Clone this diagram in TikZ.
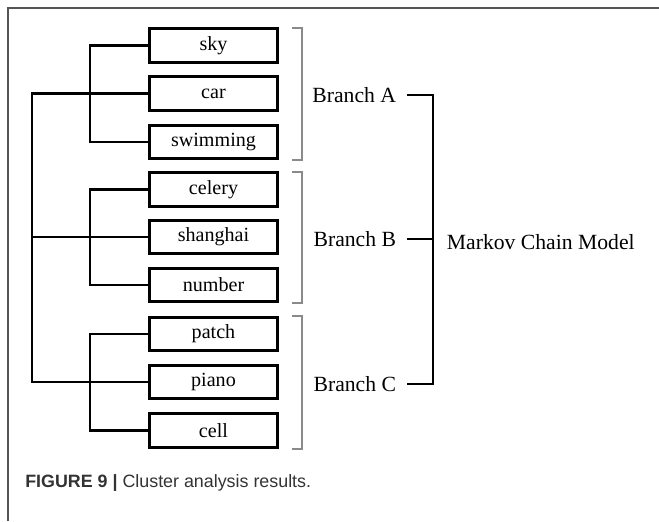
\documentclass[tikz,border=0pt]{standalone}
\usepackage{fontspec}
\setmainfont{Liberation Serif}
\newfontfamily\capfont{Liberation Sans}
\usetikzlibrary{positioning}
\definecolor{framegray}{HTML}{555555}
\definecolor{bracketgray}{HTML}{8A8A8A}
\definecolor{captext}{HTML}{333333}
\tikzset{
    word/.style={draw, line width=2pt, minimum width=3.2cm, minimum height=0.83cm,
        inner sep=0pt, font=\fontsize{14.3}{16}\selectfont},
    tree/.style={line width=2pt},
    bracket/.style={line width=1.4pt, bracketgray},
    branchtext/.style={font=\fontsize{15.4}{18}\selectfont},
}
\begin{document}
\begin{tikzpicture}[x=0.025cm, y=-0.025cm]
                \useasboundingbox (0,0) rectangle (659,521);
                % frame
                \draw[framegray, line width=1pt] (8,521) -- (8,8) -- (659,8);
                % nodes
                \node[word] (sky) at (213.5,45.5) {sky};
                \node[word] (car) at (213.5,93.5) {car};
                \node[word] (swimming) at (213.5,142) {swimming};
                \node[word] (celery) at (213.5,189.5) {celery};
                \node[word] (shanghai) at (213.5,237) {shanghai};
                \node[word] (number) at (213.5,285) {number};
                \node[word] (patch) at (213.5,334) {patch};
                \node[word] (piano) at (213.5,382) {piano};
                \node[word] (cell) at (213.5,430.5) {cell};
                % tree
                \draw[tree] (sky.west) -- ++(-58,0) |- (swimming.west);
                \draw[tree] (celery.west) -- ++(-58,0) |- (number.west);
                \draw[tree] (patch.west) -- ++(-58,0) |- (cell.west);
                \draw[tree] (car.west) -- ++(-116,0) |- (piano.west);
                \draw[tree] (shanghai.west) -- ++(-116,0);
                % brackets
                \draw[bracket] (292,28) -- (302,28) -- (302,160) -- (292,160);
                \draw[bracket] (292,172) -- (302,172) -- (302,303) -- (292,303);
                \draw[bracket] (292,316) -- (302,316) -- (302,449) -- (292,449);
                % branches
                \node[branchtext, anchor=east] (brA) at (401,95) {Branch A};
                \node[branchtext, anchor=east] (brB) at (401,239) {Branch B};
                \node[branchtext, anchor=east] (brC) at (401,384) {Branch C};
                \node[branchtext, anchor=west] (markov) at (442,242) {Markov Chain Model};
                \draw[tree] ([xshift=0.15cm]brA.east) -- ++(26,0) |- ([xshift=0.15cm]brC.east);
                \draw[tree] ([xshift=0.15cm]brB.east) -- ++(26,0);
                % caption
                \node[anchor=west, inner sep=0pt, text=captext, font=\capfont\fontsize{12.7}{15}\selectfont]
                    (caption) at (25,483) {\textbf{FIGURE 9 |} Cluster analysis results.};
            \end{tikzpicture}
\end{document}
